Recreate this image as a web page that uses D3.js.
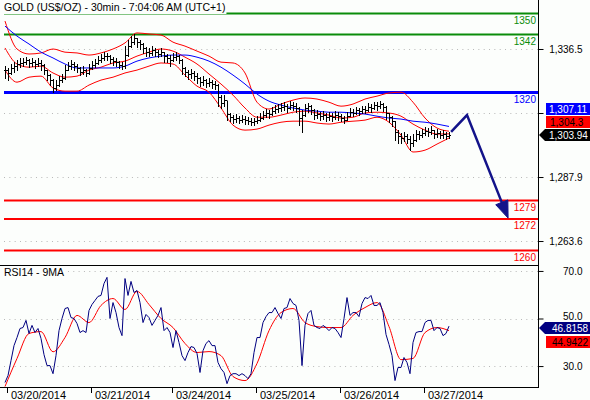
<!DOCTYPE html>
<html>
<head>
<meta charset="utf-8">
<script src="https://cdn.jsdelivr.net/npm/d3@7"></script>
<style>
body { margin: 0; background: #fff; }
svg { display: block; font-family: "Liberation Sans", Arial, sans-serif; }
</style>
</head>
<body>
<div id="chart"></div>
<script>
var closes = [1328.5,1327.4,1329.3,1330.0,1330.8,1331.2,1331.5,1332.3,1331.2,1331.5,
    1330.8,1331.2,1330.4,1328.5,1326.6,1324.7,1321.7,1322.8,1324.7,1325.5,
    1328.5,1330.0,1330.8,1330.0,1329.3,1327.7,1328.5,1327.4,1329.3,1330.4,
    1331.2,1332.3,1333.1,1333.8,1333.8,1332.7,1331.9,1331.5,1330.4,1330.0,
    1334.2,1337.6,1339.1,1340.7,1339.1,1338.4,1336.9,1335.3,1335.0,1336.1,
    1335.3,1334.6,1335.3,1333.8,1333.1,1332.3,1333.4,1333.8,1332.3,1329.3,
    1327.7,1327.0,1327.4,1326.2,1325.5,1323.9,1324.7,1323.6,1323.9,1323.2,
    1322.8,1318.2,1316.0,1317.1,1311.8,1310.6,1309.9,1310.3,1309.5,1309.9,
    1309.5,1309.1,1308.7,1309.1,1309.5,1310.3,1311.4,1312.2,1311.8,1312.9,
    1313.7,1314.1,1314.4,1314.8,1314.1,1315.2,1314.8,1314.1,1310.3,1311.4,
    1314.1,1314.8,1313.3,1311.4,1311.8,1311.0,1311.4,1310.6,1311.0,1310.6,
    1311.4,1311.0,1310.3,1309.5,1311.0,1312.5,1312.2,1313.3,1312.9,1313.7,
    1313.3,1314.4,1314.1,1315.2,1314.8,1315.6,1314.4,1312.2,1310.6,1309.1,
    1304.9,1303.4,1302.7,1303.4,1302.3,1300.8,1301.9,1304.2,1303.8,1304.6,
    1305.3,1304.9,1305.7,1304.2,1304.6,1303.8,1304.2,1303.4,1303.9];

var highs = [1330.0,1329.3,1330.8,1331.5,1332.3,1333.1,1333.1,1333.4,1332.7,1333.1,
    1332.3,1333.1,1332.3,1330.8,1328.5,1327.0,1325.1,1324.7,1326.2,1327.0,
    1330.4,1331.5,1332.3,1331.5,1330.8,1329.6,1330.0,1328.9,1330.8,1331.9,
    1332.7,1333.8,1334.6,1335.3,1335.0,1334.2,1333.4,1333.1,1331.9,1331.5,
    1337.6,1339.9,1341.4,1342.2,1340.7,1339.9,1338.8,1337.2,1336.9,1337.6,
    1336.9,1336.1,1336.9,1335.3,1334.6,1334.2,1335.0,1335.3,1334.2,1332.7,
    1329.6,1328.5,1328.9,1328.1,1327.4,1325.8,1326.2,1325.1,1325.5,1324.7,
    1324.3,1323.2,1319.0,1319.0,1316.7,1312.2,1311.4,1311.8,1311.0,1311.4,
    1311.0,1310.6,1310.3,1310.3,1311.0,1312.2,1312.9,1313.7,1313.3,1314.4,
    1315.2,1315.6,1316.0,1316.3,1315.6,1316.7,1316.3,1316.0,1314.4,1313.3,
    1315.6,1316.0,1315.2,1313.7,1313.3,1312.5,1312.9,1312.2,1312.5,1312.2,
    1312.9,1312.5,1311.8,1311.0,1312.5,1314.1,1313.7,1314.4,1314.1,1314.8,
    1314.8,1316.0,1315.6,1316.3,1316.3,1316.7,1316.0,1314.8,1312.2,1311.0,
    1309.1,1305.7,1304.6,1304.9,1304.2,1303.4,1304.2,1305.7,1305.3,1306.1,
    1306.8,1306.5,1307.2,1305.7,1306.1,1305.3,1305.7,1304.9,1304.9];

var lows = [1325.5,1324.7,1327.0,1327.7,1328.5,1329.6,1330.0,1330.8,1329.6,1330.0,
    1329.3,1330.0,1328.5,1327.0,1324.7,1322.8,1320.1,1320.9,1322.4,1323.9,
    1325.1,1328.5,1328.9,1328.5,1327.7,1326.6,1327.0,1326.2,1327.0,1328.9,
    1329.6,1330.8,1331.5,1332.3,1332.3,1331.2,1330.4,1330.0,1329.3,1328.9,
    1329.3,1333.8,1337.2,1338.4,1337.2,1336.5,1335.0,1333.8,1333.8,1334.2,
    1333.8,1333.4,1333.8,1331.5,1331.5,1330.0,1331.9,1332.3,1331.2,1327.0,
    1326.2,1325.1,1325.5,1324.7,1323.6,1322.4,1322.8,1322.0,1322.4,1321.7,
    1321.3,1314.8,1314.1,1314.8,1309.5,1309.1,1308.4,1308.7,1308.4,1308.7,
    1308.0,1308.0,1307.6,1307.6,1308.4,1309.1,1309.9,1310.6,1310.3,1311.4,
    1312.2,1312.5,1312.9,1313.3,1312.5,1313.7,1313.3,1312.5,1307.6,1304.9,
    1311.0,1312.5,1311.8,1309.9,1310.3,1309.5,1309.9,1309.1,1309.5,1309.1,
    1309.9,1309.5,1309.1,1308.4,1309.5,1311.0,1311.0,1311.8,1311.4,1312.2,
    1312.2,1312.9,1312.5,1313.7,1313.3,1314.1,1312.9,1309.9,1308.7,1307.2,
    1301.9,1300.8,1300.8,1301.5,1300.8,1298.1,1299.6,1301.5,1302.3,1303.0,
    1303.8,1303.4,1304.2,1302.7,1303.0,1302.7,1302.7,1302.3,1302.7];

// bollinger bands and blue moving average, read every 4th bar
var bandUpper = [1347.1,1336.5,1334.6,1335.0,1336.5,1335.3,1335.0,1334.2,1335.0,1336.5,
    1338.8,1342.6,1342.2,1341.8,1339.1,1337.6,1335.7,1333.8,1331.5,1331.2,
    1327.4,1316.3,1313.7,1315.6,1317.1,1317.9,1317.5,1316.3,1314.8,1315.6,
    1317.5,1318.6,1319.8,1320.1,1316.3,1310.3,1306.5,1305.3];
var bandMid = [1336.9,1330.8,1329.6,1330.0,1327.4,1325.8,1326.2,1328.5,1329.6,1331.2,
    1331.9,1333.8,1335.3,1336.5,1335.7,1333.4,1330.8,1327.0,1323.2,1319.0,
    1314.1,1310.6,1310.6,1311.4,1312.5,1312.9,1312.2,1311.4,1310.3,1310.6,
    1312.2,1312.5,1312.2,1311.0,1308.0,1305.7,1304.2,1304.3];
var bandLower = [1328.5,1323.9,1325.8,1326.2,1321.7,1320.5,1320.5,1322.8,1324.7,1325.8,
    1327.4,1328.5,1330.0,1331.2,1330.8,1326.6,1322.4,1320.1,1314.1,1307.6,
    1305.7,1306.1,1307.6,1308.7,1309.1,1309.1,1308.4,1308.0,1308.7,1309.1,
    1309.5,1310.6,1308.7,1303.8,1297.4,1298.1,1300.4,1302.7];
var maBlue = [1345.2,1341.4,1338.4,1335.3,1333.1,1330.8,1329.3,1329.3,1329.3,1329.3,
    1330.0,1331.9,1333.1,1333.8,1334.2,1334.2,1333.4,1331.9,1329.6,1326.6,
    1323.2,1319.4,1316.7,1315.2,1314.1,1313.3,1312.9,1312.5,1312.5,1312.2,
    1311.8,1311.0,1310.3,1309.9,1309.1,1308.7,1308.0,1307.1];

var rsi = [23.1,26.0,32.3,38.6,42.0,45.8,46.2,49.2,43.7,47.1,
    44.1,45.8,41.6,34.8,30.2,30.2,26.8,34.4,44.9,50.0,
    54.2,54.6,50.4,50.0,47.9,44.1,44.9,44.1,53.4,55.9,
    57.6,59.3,59.7,64.7,67.3,50.0,56.7,52.5,46.2,42.8,
    66.8,59.7,65.6,60.9,61.8,56.7,48.3,51.7,50.4,47.1,
    49.2,51.3,54.6,44.9,46.2,44.1,37.8,44.9,39.9,34.4,
    32.3,35.7,38.2,37.8,35.3,27.3,36.5,39.5,40.7,38.6,
    38.6,31.5,28.9,27.3,22.6,26.0,26.8,26.8,26.0,26.8,
    26.0,24.7,26.8,35.7,42.0,42.0,48.3,50.8,52.5,52.5,
    54.6,52.1,50.0,54.2,54.6,58.4,56.3,55.5,49.2,30.2,
    47.1,52.1,53.4,47.1,46.2,45.8,47.1,46.2,44.9,46.2,
    45.8,44.1,42.0,50.0,58.8,51.3,52.5,52.5,50.8,56.3,
    58.8,58.4,59.7,55.5,55.5,56.7,52.5,43.3,39.1,34.4,
    23.9,29.4,29.4,33.6,31.5,26.8,39.9,44.1,44.5,44.5,
    48.3,49.2,49.2,44.9,46.2,45.8,42.8,43.7,46.8];
var rsiMA = [21.4,33.2,43.7,44.5,36.0,42.0,51.3,48.3,55.5,58.4,
    53.8,61.4,55.9,50.0,46.2,39.5,35.7,36.1,34.4,25.6,
    23.9,31.1,44.9,52.5,54.2,48.3,46.6,46.2,46.2,51.3,
    54.6,56.7,46.6,32.7,33.2,44.1,46.2,44.9];

var resistanceLevels = [1350, 1342];
var pivotLevels = [1320];
var supportLevels = [1279, 1272, 1260];

var priceTicks = [1336.5, 1312.2, 1287.9, 1263.6];
var rsiTicks = [70, 50, 30];

var dayLabels = ["03/20/2014", "03/21/2014", "03/24/2014", "03/25/2014", "03/26/2014", "03/27/2014"];
var dayStartIdx = [1, 29, 56, 84, 112, 140];

var lastClose = 1303.94, lastMid = 1304.3, lastMA = 1307.11;
var lastRsi = 46.8158, lastRsiMA = 44.9422;

// projected move: [bar index, price]
var forecast = [[148.7, 1305.0], [154, 1311.4], [167.7, 1272.3]];

var titleText = "GOLD (US$/OZ) - 30min - 7:04:06 AM (UTC+1)";
var rsiTitle = "RSI14 - 9MA";

var W = 590, H = 400;
var plotLeft = 4, plotRight = 538;
var mainBottom = 265, rsiBottom = 387;
var bg = "#fcfefc";

var svg = d3.select("#chart").append("svg")
            .attr("width", W)
            .attr("height", H);

svg.append("rect").attr("width", W).attr("height", H).attr("fill", bg);

var defs = svg.append("defs");
defs.append("clipPath").attr("id", "clipMain")
    .append("rect")
    .attr("x", plotLeft).attr("y", 0)
    .attr("width", plotRight - plotLeft).attr("height", mainBottom);
defs.append("clipPath").attr("id", "clipRsi")
    .append("rect")
    .attr("x", plotLeft).attr("y", mainBottom)
    .attr("width", plotRight - plotLeft).attr("height", rsiBottom - mainBottom);

var x = d3.scaleLinear()
        .domain([0, closes.length - 1])
        .range([5, 449]);

var y = d3.scaleLinear()
        .domain([1254.5, 1355.1])
        .range([mainBottom, 0]);

var yr = d3.scaleLinear()
        .domain([21.2, 72.5])
        .range([rsiBottom, mainBottom]);

var bandStep = (closes.length - 1) / (bandUpper.length - 1);
var maStep = (closes.length - 1) / (rsiMA.length - 1);

/* dotted grid */
svg.append("g").selectAll("line")
    .data(priceTicks)
    .enter().append("line")
    .attr("x1", plotLeft).attr("x2", plotRight)
    .attr("y1", function(d){ return Math.round(y(d)) + 0.5; })
    .attr("y2", function(d){ return Math.round(y(d)) + 0.5; })
    .attr("stroke", "#b8b8b8")
    .attr("stroke-dasharray", "1,4.33");

svg.append("g").selectAll("line")
    .data(rsiTicks)
    .enter().append("line")
    .attr("x1", plotLeft).attr("x2", plotRight)
    .attr("y1", function(d){ return Math.round(yr(d)) + 0.5; })
    .attr("y2", function(d){ return Math.round(yr(d)) + 0.5; })
    .attr("stroke", "#b8b8b8")
    .attr("stroke-dasharray", "1,4.33");

/* horizontal levels */
function drawLevels(levels, color, width) {
    var g = svg.append("g");
    g.selectAll("line")
        .data(levels)
        .enter().append("line")
        .attr("x1", plotLeft).attr("x2", plotRight)
        .attr("y1", function(d){ return y(d); })
        .attr("y2", function(d){ return y(d); })
        .attr("stroke", color)
        .attr("stroke-width", width);
    g.selectAll("text")
        .data(levels)
        .enter().append("text")
        .attr("x", plotRight - 2)
        .attr("y", function(d){ return y(d) + 10.5; })
        .attr("text-anchor", "end")
        .attr("font-size", "10px")
        .attr("fill", color)
        .text(function(d){ return d; });
}
drawLevels(resistanceLevels, "#0a8c0a", 2);
drawLevels(pivotLevels, "#0000ff", 3);
drawLevels(supportLevels, "#ff0000", 2);

/* price panel */
var main = svg.append("g").attr("clip-path", "url(#clipMain)");

function bandLine(step) {
    return d3.line()
        .x(function(d, i){ return x(i * step); })
        .y(function(d){ return y(d); })
        .curve(d3.curveMonotoneX);
}

[bandUpper, bandMid, bandLower].forEach(function(band){
    main.append("path")
        .attr("d", bandLine(bandStep)(band))
        .attr("fill", "none")
        .attr("stroke", "#ff0000")
        .attr("stroke-width", 1);
});

main.append("path")
    .attr("d", bandLine(bandStep)(maBlue))
    .attr("fill", "none")
    .attr("stroke", "#0000ff")
    .attr("stroke-width", 1);

var bars = main.append("path")
    .attr("d", closes.map(function(c, i){
        var bx = Math.round(x(i)) + 0.5;
        var o = i > 0 ? closes[i - 1] : c;   // open = previous close
        var yo = Math.round(y(o)) + 0.5, yc = Math.round(y(c)) + 0.5;
        return "M" + bx + "," + Math.round(y(highs[i])) + "V" + (Math.round(y(lows[i])) + 1)
             + "M" + (bx - 1.5) + "," + yo + "H" + bx
             + "M" + bx + "," + yc + "H" + (bx + 1.5);
    }).join(""))
    .attr("fill", "none")
    .attr("stroke", "#000")
    .attr("stroke-width", 1);

/* forecast arrow */
var fpts = forecast.map(function(p){ return [x(p[0]), y(p[1])]; });
var tip = fpts[fpts.length - 1], prev = fpts[fpts.length - 2];
var ang = Math.atan2(tip[1] - prev[1], tip[0] - prev[0]);
var headLen = 17, headHalf = 6.5;
var bx0 = tip[0] - headLen * Math.cos(ang), by0 = tip[1] - headLen * Math.sin(ang);
var lineEnd = [tip[0] - (headLen - 3) * Math.cos(ang), tip[1] - (headLen - 3) * Math.sin(ang)];

svg.append("path")
    .attr("d", d3.line()(fpts.slice(0, -1).concat([lineEnd])))
    .attr("fill", "none")
    .attr("stroke", "#13138a")
    .attr("stroke-width", 2.5);
svg.append("path")
    .attr("d", d3.line()([
        tip,
        [bx0 + headHalf * Math.sin(ang), by0 - headHalf * Math.cos(ang)],
        [bx0 - headHalf * Math.sin(ang), by0 + headHalf * Math.cos(ang)]
    ]) + "Z")
    .attr("fill", "#13138a")
    .attr("stroke", "#13138a");

/* rsi panel */
var rsiG = svg.append("g").attr("clip-path", "url(#clipRsi)");

rsiG.append("path")
    .attr("d", d3.line()
        .x(function(d, i){ return x(i * maStep); })
        .y(function(d){ return yr(d); })
        .curve(d3.curveMonotoneX)(rsiMA))
    .attr("fill", "none")
    .attr("stroke", "#ff0000")
    .attr("stroke-width", 1);

rsiG.append("path")
    .attr("d", d3.line()
        .x(function(d, i){ return x(i); })
        .y(function(d){ return yr(d); })(rsi))
    .attr("fill", "none")
    .attr("stroke", "#000080")
    .attr("stroke-width", 1);

/* titles with background */
function label(txt, ty) {
    var g = svg.append("g");
    var r = g.append("rect").attr("fill", bg);
    var t = g.append("text")
        .attr("x", 4)
        .attr("y", ty)
        .attr("font-size", "10.5px")
        .attr("fill", "#000")
        .text(txt);
    var bb = t.node().getBBox();
    r.attr("x", 0).attr("y", bb.y - 2).attr("width", bb.x + bb.width + 1).attr("height", bb.height + 3);
}
label(titleText, 11);
label(rsiTitle, mainBottom + 11);

/* frame */
svg.append("line")
    .attr("x1", 0).attr("x2", plotRight)
    .attr("y1", mainBottom + 0.5).attr("y2", mainBottom + 0.5)
    .attr("stroke", "#000");
svg.append("line")
    .attr("x1", 0).attr("x2", plotRight)
    .attr("y1", rsiBottom + 0.5).attr("y2", rsiBottom + 0.5)
    .attr("stroke", "#000");
svg.append("line")
    .attr("x1", plotRight + 0.5).attr("x2", plotRight + 0.5)
    .attr("y1", 0).attr("y2", rsiBottom + 1)
    .attr("stroke", "#000");

/* badges */
var bh = 12;
var cyClose = Math.round(y(lastClose));
var closeTop = cyClose - bh / 2;
var midTop = closeTop - bh - 1;
var maTop = midTop - bh - 1;
var rsiTop = Math.round(yr(lastRsi)) - bh / 2 + 2;
var rsiMaTop = rsiTop + bh + 2;

var fmt2 = d3.format(",.2f"), fmt1 = d3.format(",.1f"), fmt4 = d3.format(".4f");

/* right axis labels */
var priceAxis = svg.append("g")
    .attr("transform", "translate(" + (plotRight + 0.5) + ",0)")
    .call(d3.axisRight(y).tickValues(priceTicks).tickSize(5).tickFormat(fmt1));
var rsiAxis = svg.append("g")
    .attr("transform", "translate(" + (plotRight + 0.5) + ",0)")
    .call(d3.axisRight(yr).tickValues(rsiTicks).tickSize(5).tickFormat(fmt1));
[priceAxis, rsiAxis].forEach(function(a){
    a.select(".domain").remove();
    a.selectAll("text")
        .attr("x", 44)
        .attr("text-anchor", "end")
        .attr("font-size", "10px")
        .attr("font-family", "Liberation Sans, Arial, sans-serif")
        .attr("fill", "#000");
    a.selectAll("line").attr("stroke", "#000");
});
priceAxis.selectAll(".tick")
    .filter(function(d){ return y(d) > maTop - 4 && y(d) < closeTop + bh + 4; })
    .select("text").remove();
// keep the rsi label that sits on the badge just above it
rsiAxis.selectAll(".tick")
    .filter(function(d){ return yr(d) + 4 > rsiTop && yr(d) - 6 < rsiMaTop + bh; })
    .select("text")
    .attr("dy", null)
    .attr("y", function(d){ return rsiTop - 2.8 - yr(d); });

function badge(top, fill, txtColor, txt, arrow, tx) {
    var g = svg.append("g");
    if (arrow) {
        g.append("path")
            .attr("d", "M" + (plotRight + 1) + "," + (top + bh / 2) + "L" + (plotRight + 7) + "," + top
                + "H" + W + "V" + (top + bh) + "H" + (plotRight + 7) + "Z")
            .attr("fill", fill);
    } else {
        g.append("rect")
            .attr("x", 546).attr("y", top)
            .attr("width", W - 546).attr("height", bh)
            .attr("fill", fill);
    }
    g.append("text")
        .attr("x", tx)
        .attr("y", top + 10)
        .attr("font-size", "10px")
        .attr("fill", txtColor)
        .text(txt);
}
badge(maTop, "#0000ff", "#fff", fmt2(lastMA), false, 549);
badge(midTop, "#ff0000", "#000", fmt1(lastMid), false, 550);
badge(closeTop, "#000", "#fff", fmt2(lastClose), true, 549);
badge(rsiTop, "#000080", "#fff", fmt4(lastRsi), true, 552);
badge(rsiMaTop, "#ff0000", "#000", fmt4(lastRsiMA), false, 552);

/* date axis */
var dates = svg.append("g");
dates.selectAll("line")
    .data(dayStartIdx)
    .enter().append("line")
    .attr("x1", function(d){ return Math.round(x(d)) - 0.5; })
    .attr("x2", function(d){ return Math.round(x(d)) - 0.5; })
    .attr("y1", rsiBottom).attr("y2", rsiBottom + 6)
    .attr("stroke", "#000");
dates.selectAll("text")
    .data(dayStartIdx)
    .enter().append("text")
    .attr("x", function(d){ return Math.round(x(d)) + 3; })
    .attr("y", 399)
    .attr("font-size", "11px")
    .attr("fill", "#000")
    .text(function(d, i){ return dayLabels[i]; });
</script>
</body>
</html>
